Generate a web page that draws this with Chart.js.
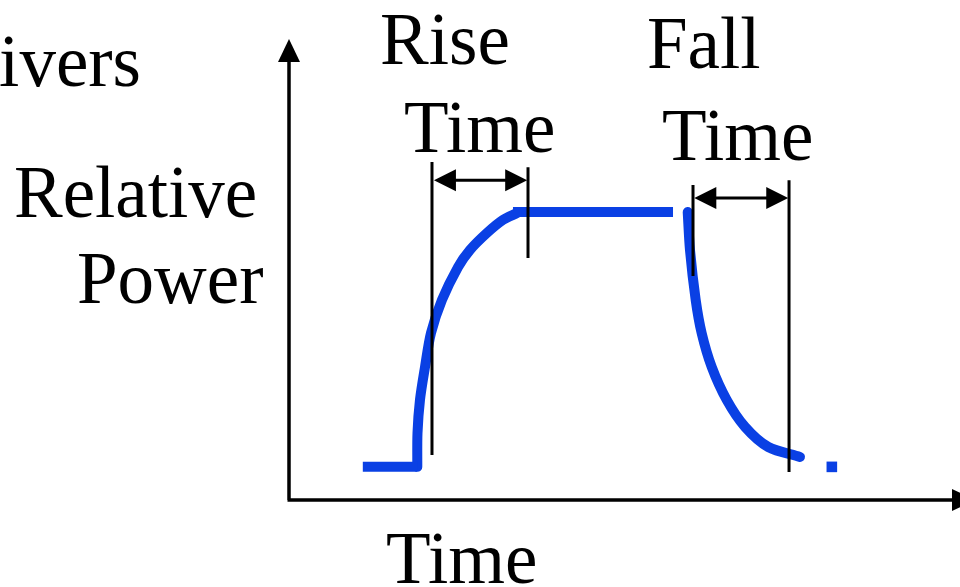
<!DOCTYPE html>
<html>
<head>
<meta charset="utf-8">
<script src="https://cdn.jsdelivr.net/npm/chart.js@4/dist/chart.umd.min.js"></script>
<style>
  html, body { margin: 0; padding: 0; background: #fff; overflow: hidden; }
  canvas { display: block; }
</style>
</head>
<body>
<canvas id="chart" width="960" height="587"></canvas>
<script>
// time in arbitrary units, power relative to the plateau (0 = off, 1 = full)
const baseTime    = [1.10, 1.91];
const basePower   = [0, 0];
const riseTime    = [1.912, 1.915, 1.952, 2.027, 2.116, 2.280, 2.519, 2.697, 2.951, 3.189, 3.398];
const risePower   = [0.000, 0.133, 0.263, 0.392, 0.525, 0.655, 0.784, 0.851, 0.918, 0.969, 0.996];
const flatTime    = [3.338, 5.723];
const flatPower   = [1, 1];
const fallTime    = [5.942, 5.976, 6.061, 6.150, 6.300, 6.523, 6.796, 7.143, 7.615];
const fallPower   = [1.000, 0.851, 0.655, 0.525, 0.392, 0.263, 0.157, 0.078, 0.039];
const tailTime    = [8.09];
const tailPower   = [0];

// vertical marker lines: time, top, bottom
const markTime    = [2.131, 3.562, 6.021, 7.452];
const markTop     = [1.196, 1.176, 1.106, 1.125];
const markBottom  = [0.047, 0.820, 0.749, -0.020];

// double arrows: from, to, level
const arrowFrom   = [2.16, 6.04];
const arrowTo     = [3.55, 7.44];
const arrowLevel  = [1.125, 1.055];

const blue = "#0a40e4";

const pts = (xs, ys) => xs.map((x, i) => ({ x, y: ys[i] }));

const datasets = [];
markTime.forEach((t, i) => {
  datasets.push({
    data: pts([t, t], [markTop[i], markBottom[i]]),
    showLine: true, borderColor: "#000", borderWidth: 3, pointRadius: 0, borderCapStyle: "butt"
  });
});
datasets.push(
  { data: pts(baseTime, basePower), showLine: true, borderColor: blue, borderWidth: 10, pointRadius: 0, borderCapStyle: "butt" },
  { data: pts(riseTime, risePower), showLine: true, borderColor: blue, borderWidth: 10, pointRadius: 0, borderCapStyle: "round", tension: 0.3 },
  { data: pts(flatTime, flatPower), showLine: true, borderColor: blue, borderWidth: 10, pointRadius: 0, borderCapStyle: "butt" },
  { data: pts(fallTime, fallPower), showLine: true, borderColor: blue, borderWidth: 10, pointRadius: 0, borderCapStyle: "round", tension: 0.3 },
  { data: pts(tailTime, tailPower), showLine: false, pointStyle: "rect", pointRadius: 7.5, pointBorderWidth: 0, pointBackgroundColor: blue }
);

function head(ctx, x, y, dir, len, half) {
  // dir: unit vector pointing to the tip
  const [dx, dy] = dir;
  ctx.beginPath();
  ctx.moveTo(x, y);
  ctx.lineTo(x - dx * len - dy * half, y - dy * len + dx * half);
  ctx.lineTo(x - dx * len + dy * half, y - dy * len - dx * half);
  ctx.closePath();
  ctx.fill();
}

const decor = {
  id: "decor",
  afterDraw(chart) {
    const { ctx, scales: { x, y } } = chart;
    const ox = x.getPixelForValue(x.min);
    const oy = y.getPixelForValue(y.min);
    ctx.save();
    ctx.fillStyle = "#000";
    ctx.strokeStyle = "#000";

    // axes with arrow heads (x arrow runs off the right edge)
    ctx.lineWidth = 3.5;
    ctx.beginPath();
    ctx.moveTo(ox, oy);
    ctx.lineTo(ox, y.top + 18);
    ctx.moveTo(ox - 1.5, oy);
    ctx.lineTo(chart.width - 4, oy);
    ctx.stroke();
    head(ctx, ox, y.top - 1, [0, -1], 23, 11);
    head(ctx, chart.width + 15, oy, [1, 0], 23, 11);

    // rise / fall time arrows
    ctx.lineWidth = 3;
    arrowFrom.forEach((a, i) => {
      const x1 = x.getPixelForValue(a), x2 = x.getPixelForValue(arrowTo[i]);
      const yy = y.getPixelForValue(arrowLevel[i]);
      ctx.beginPath();
      ctx.moveTo(x1 + 10, yy);
      ctx.lineTo(x2 - 10, yy);
      ctx.stroke();
      head(ctx, x1, yy, [-1, 0], 22, 11);
      head(ctx, x2, yy, [1, 0], 22, 11);
    });

    // labels
    ctx.font = '73px "Liberation Serif", "Times New Roman", serif';
    ctx.textBaseline = "alphabetic";
    ctx.textAlign = "left";
    [["Rise", 380, 64], ["Time", 404, 152], ["Fall", 647, 68], ["Time", 662, 160],
     ["Relative", 14, 217], ["Power", 77, 303], ["Time", 386, 583]]
      .forEach(([s, px, py]) => ctx.fillText(s, px, py));
    ctx.textAlign = "right";
    ctx.fillText("ivers", 141, 86);
    ctx.restore();
  }
};

new Chart(document.getElementById("chart"), {
  type: "scatter",
  data: { datasets },
  options: {
    responsive: false,
    animation: false,
    devicePixelRatio: 1,
    layout: { padding: { left: 289, right: 10, top: 40, bottom: 87 } },
    scales: {
      x: { type: "linear", min: 0, max: 9.851, display: false },
      y: { type: "linear", min: -0.13, max: 1.675, display: false }
    },
    plugins: { legend: { display: false }, tooltip: { enabled: false } }
  },
  plugins: [decor]
});
</script>
</body>
</html>
